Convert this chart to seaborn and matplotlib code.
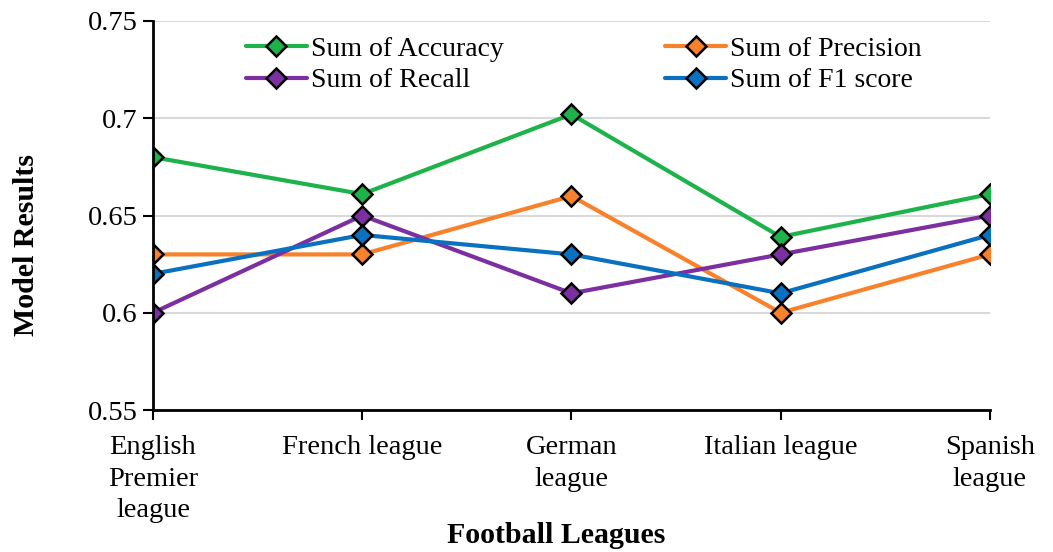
import matplotlib
matplotlib.use("Agg")
from matplotlib import pyplot as plt
import numpy as np
import pandas as pd
import seaborn as sns

# data
leagues = ["English\nPremier\nleague", "French league", "German\nleague", "Italian league", "Spanish\nleague"]
accuracy = [0.680, 0.661, 0.702, 0.639, 0.661]
precision = [0.630, 0.630, 0.660, 0.600, 0.630]
recall = [0.600, 0.650, 0.610, 0.630, 0.650]
f1 = [0.620, 0.640, 0.630, 0.610, 0.640]

series = ["Sum of Accuracy", "Sum of Precision", "Sum of Recall", "Sum of F1 score"]
colors = ["#1DB24A", "#F8812B", "#7B2FA0", "#0A70C0"]

df = pd.DataFrame({
    "League": leagues * 4,
    "Value": accuracy + precision + recall + f1,
    "Metric": np.repeat(series, len(leagues)),
})
df["x"] = list(range(len(leagues))) * 4

sns.set_style("white")
plt.rcParams["font.family"] = ["Liberation Serif", "DejaVu Serif"]
plt.rcParams["text.color"] = "black"
plt.rcParams["xtick.color"] = "black"
plt.rcParams["ytick.color"] = "black"
plt.rcParams["axes.labelcolor"] = "black"

fig = plt.figure(figsize=(10.53, 5.52), dpi=100)
ax = fig.add_axes([0.1453, 0.2572, 0.7947, 0.7048])

sns.lineplot(data=df, x="x", y="Value", hue="Metric", hue_order=series,
             palette=colors, marker="D", markersize=10.5, markeredgecolor="black",
             markeredgewidth=1.8, linewidth=3, ax=ax, legend=False)

ax.set_xlim(0, len(leagues) - 1)
ax.set_ylim(0.55, 0.75)
ax.set_yticks([0.55, 0.6, 0.65, 0.7, 0.75])
ax.set_yticklabels(["0.55", "0.6", "0.65", "0.7", "0.75"])
ax.set_xticks(range(len(leagues)))
ax.set_xticklabels(leagues, linespacing=1.35)
ax.tick_params(axis="both", labelsize=20.5, direction="out", length=7, width=1.5,
               color="black", left=True, bottom=True)
ax.tick_params(axis="x", pad=11)
ax.tick_params(axis="y", pad=4)
ax.grid(axis="y", color="#D9D9D9", linewidth=1.5)
ax.set_axisbelow(True)

for s in ["top", "right"]:
    ax.spines[s].set_visible(False)
for s in ["left", "bottom"]:
    ax.spines[s].set_color("black")
    ax.spines[s].set_linewidth(2)

ax.set_xlabel("Football Leagues", fontsize=21.5, fontweight="bold")
ax.set_ylabel("Model Results", fontsize=21.5, fontweight="bold")
ax.xaxis.set_label_coords(0.4815, -0.288)
ax.yaxis.set_label_coords(-0.135, 0.424)

handles = ax.get_lines()[:4]
order = [0, 2, 1, 3]
ax.legend([handles[i] for i in order], [series[i] for i in order], ncol=2,
          frameon=False, fontsize=20, loc="upper center", bbox_to_anchor=(0.515, 1.025),
          columnspacing=5.8, handlelength=2.2, handletextpad=0.15, labelspacing=0.22)

fig.savefig("out.png", dpi=100)
